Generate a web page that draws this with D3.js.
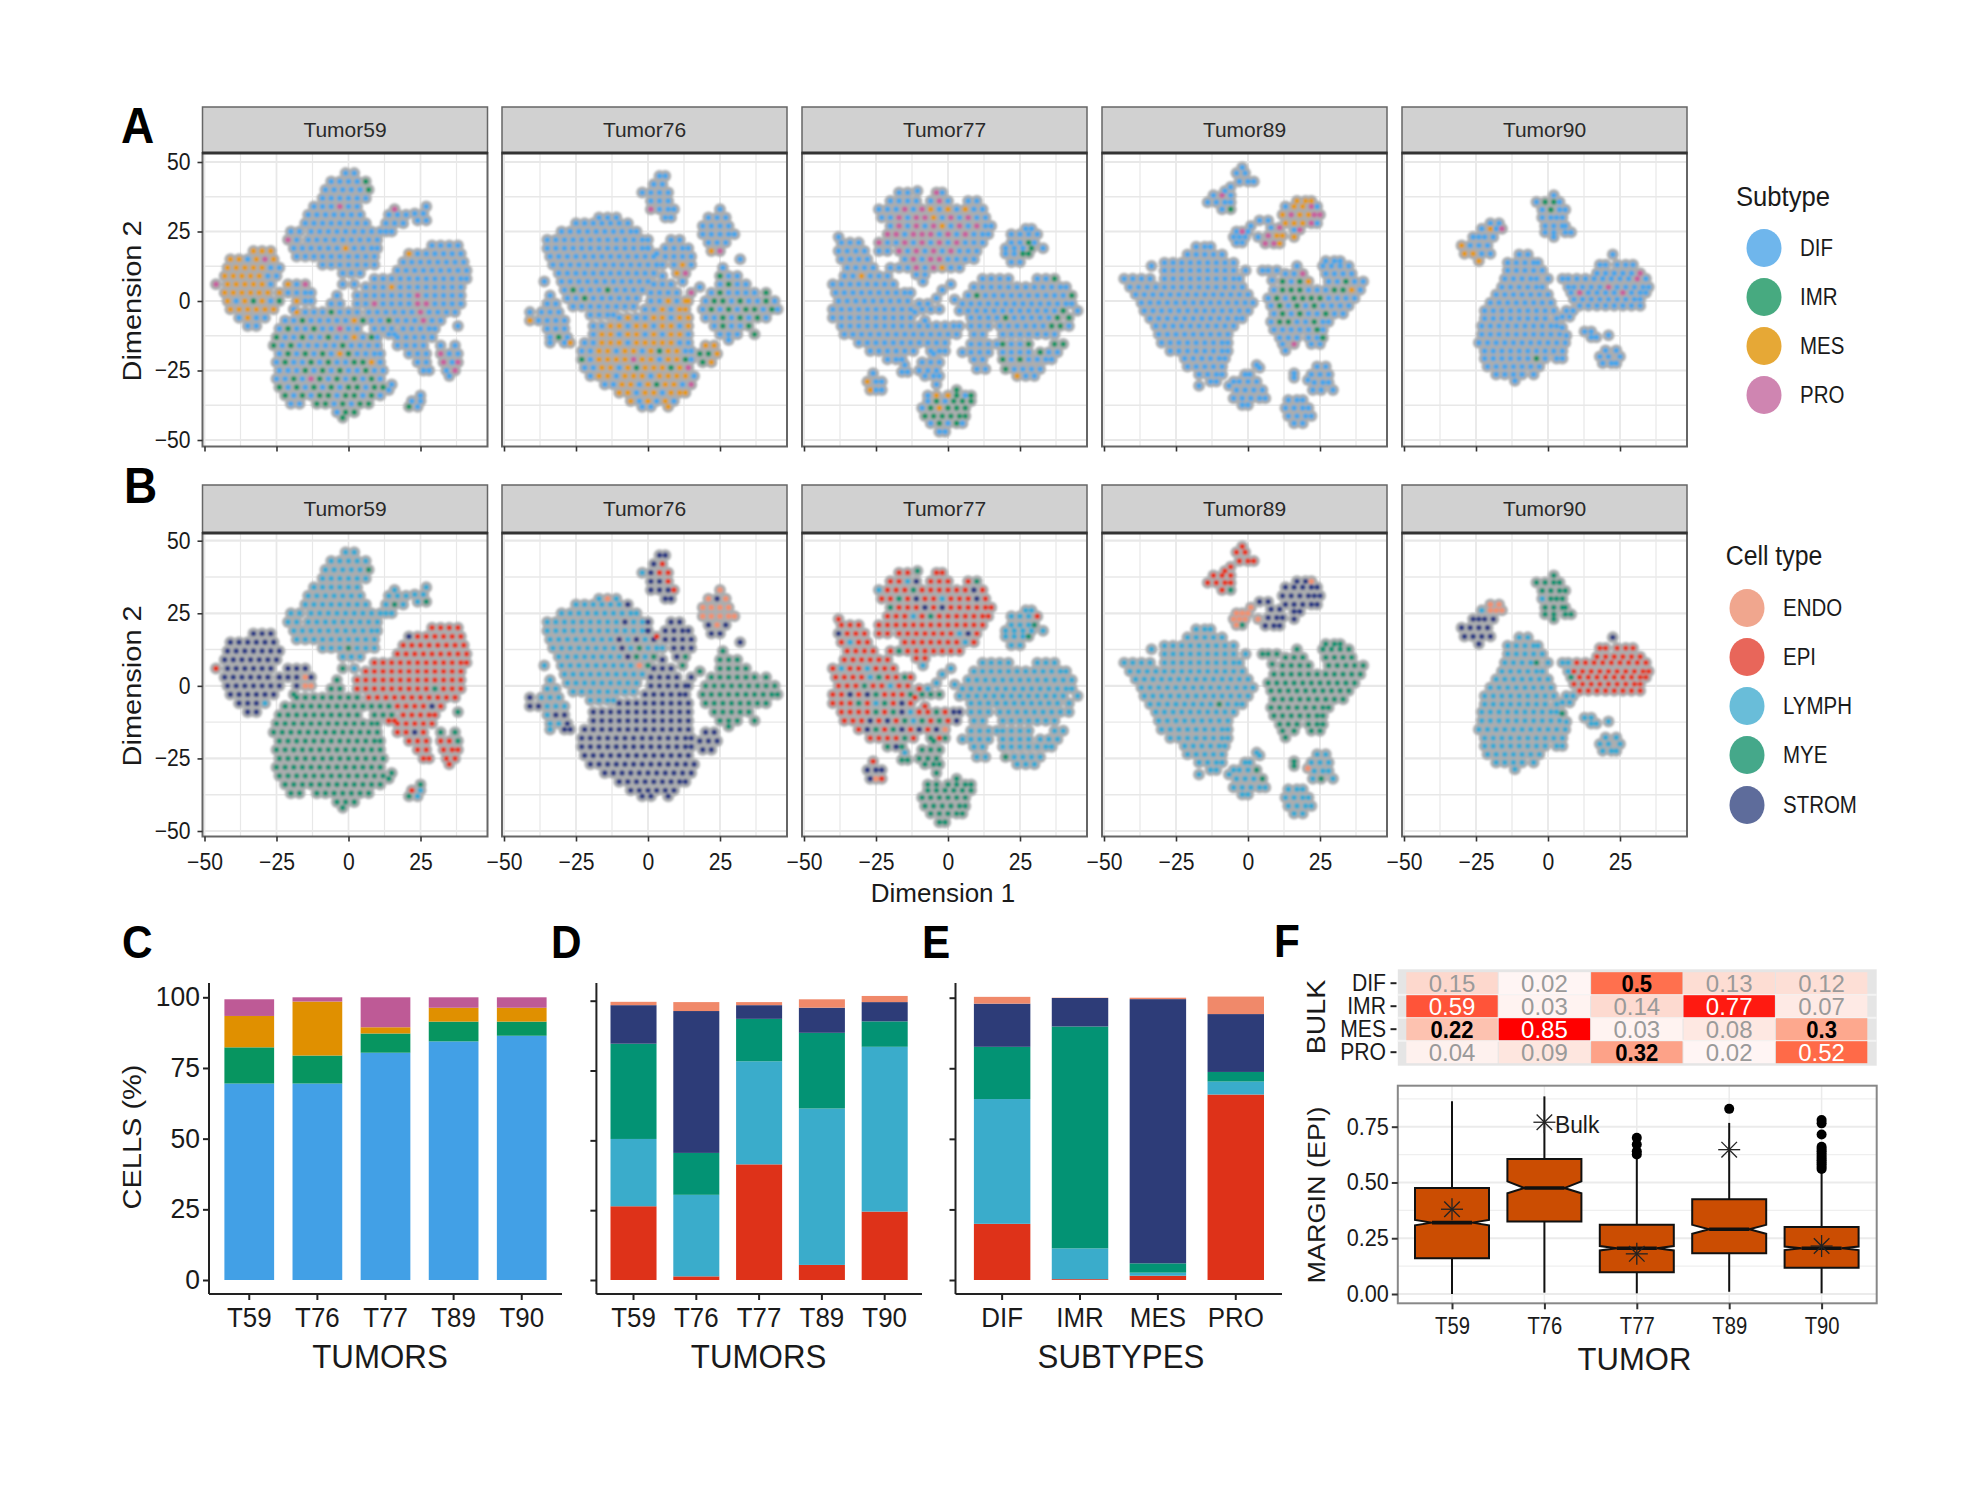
<!DOCTYPE html>
<html>
<head>
<meta charset="utf-8">
<script src="https://cdn.jsdelivr.net/npm/d3@7"></script>
<style>
html,body{margin:0;padding:0;background:#fff}
svg{display:block}
text{font-family:"Liberation Sans",Arial,sans-serif}
</style>
</head>
<body>
<svg id="chart" width="1970" height="1500"></svg>
<script>
// ---------- categories ----------
const tumorNames = ["Tumor59","Tumor76","Tumor77","Tumor89","Tumor90"];
const tumorLabels = ["T59","T76","T77","T89","T90"];
const subtypeNames = ["DIF","IMR","MES","PRO"];
const cellTypeNames = ["ENDO","EPI","LYMPH","MYE","STROM"];
const stackCellOrder = ["EPI","LYMPH","MYE","STROM","ENDO"];
const scatterTicks = [-50,-25,0,25];
const scatterMinor = [-37.5,-12.5,12.5,37.5];

// ---------- t-SNE cells ----------
// Each group: default subtype (a), default cell type (b), rows [dimension 2, "dimension 1 values"].
// Suffix on a value: d i m p = subtype, E P L Y S = cell type.
const tumor59Cells = [
 {a:"d",b:"L",rows:[[46,"-1 2"],[43,"-6 -3 0 3 6i"],[40,"-8 -5 -2 1 4 7iY"],[37,"-9 -6 -3 0 3 6"],[34,"-12 -9 -6 -3p 0 3"],[31,"-14 -11 -8 -5 -2 1 4"],[28,"-15 -12 -9 -6 -3 0 3 6"],[25,"-20 -17 -13 -10 -7 -4 -1 2 5 8 11"],[22,"-21p -18 -14 -11 -8 -5 -2 1 4 7 10"],[19,"-19 -16 -13 -10 -7 -4 -1m 2 5 8 10"],[16,"-18 -15 -12 -9 -6 -3 0 3 6 9"],[13,"-9 -6 -3 0Y 3 6 9"],[10,"-2 1 4"],[6,"-2Y 2"]]},
 {a:"d",b:"L",rows:[[33,"16p"],[31,"14 17 20"],[28,"13 16Y 19"],[25,"13 15"],[34,"27"],[31.5,"23 26"],[29,"24 27Y"]]},
 {a:"m",b:"S",rows:[[18,"-33 -30m -27"],[15,"-41 -38 -35d -32 -29p -26"],[12,"-42 -39 -36 -33 -30 -27d -24d"],[9,"-43 -40 -37 -34 -31 -28d -25d"],[6,"-46pP -42 -39 -36 -33 -30 -27d"],[3,"-43 -40 -37 -34 -31 -28 -24d"],[0,"-42 -39d -36 -33i -30 -27d -24i"],[-3,"-41 -38 -35 -32 -29 -26"],[-6,"-38d -35 -32d -29dL"],[-9,"-35d -32d"]]},
 {a:"d",b:"S",rows:[[6,"-21m -18 -15p"],[3,"-24m -21 -18 -15E -13"],[0,"-18m -15E -13E"],[-3,"-19Y"]]},
 {a:"d",b:"Y",rows:[[2,"-4"],[-1,"-6 -3"],[-4,"-18m -15 -12 -9 -6i -3 0 3"],[-7,"-22 -19 -16i -13 -10 -7 -4 -1 2m 5i"],[-10,"-24 -21i -18 -15 -12i -9 -6 -3p 0 3"],[-13,"-25i -22 -19 -16i -13 -10 -7i -4 -1 2m 5 8i 10"],[-16,"-26i -23 -20i -17 -14 -11 -8 -5 -2i 1 4 7 10"],[-19,"-24 -21i -18 -15i -12 -9i -6 -3m 0i 3 6 9 11"],[-22,"-25 -22i -19 -16 -13i -10 -7i -4 -1 2i 5i 8m 11"],[-25,"-24 -21 -18 -15i -12 -9i -6 -3i 0 3 6i 9 12"],[-28,"-25 -22 -19i -16 -13p -10i -7 -4i -1 2i 5 8i 11"],[-31,"-24i -21 -18i -15 -12i -9 -6i -3 0i 3i 6 9i 12i"],[-34,"-22i -19 -16i -13 -10i -7i -4 -1i 2i 5 8i 11"],[-37,"-20 -17 -11i -8i -5 -2i 1 4i 7i"],[-40,"-4 -1i 2i"],[-42,"-2i"],[-30,"15"],[-32,"14"]]},
 {a:"d",b:"P",rows:[[20,"29 32 35 38"],[17,"21mS 24 27 30 33 36 39"],[14,"19 22 25 28 31 34 37 40"],[11,"17 20 23 26 29 32 35 38 41"],[8,"9 12 15 18 21 24 27 30 33 36 39 41"],[5,"6 9 12 15m 18 21 24 27 30 33 36 39"],[2,"3 6 9 12 15 18 21 24p 27 30 33 36 39"],[-1,"3 6 9p 12 15 18 21 24p 27p 30Y 33 36 39"],[-4,"7 10 13 16 19 22 25p 28 31 34 37"],[-7,"17 20 23 26p 29S 32 "],[-9,"38Y"],[-10,"19 22 25 28 30"],[-13,"17 20 23 26 29"],[-16,"17 20 23S 26"],[-19,"21 24 27"],[-22,"24 27"],[-25,"26 28"]]},
 {a:"d",b:"Y",rows:[[-7,"8 11 14i"],[-10,"9 12 15"],[-12,"14P 16P"]]},
 {a:"p",b:"P",rows:[[-16,"32dY 37dY"],[-19,"32 35d 38dY"],[-22,"33 36d 38"],[-25,"34d 37"],[-27,"35d"]]},
 {a:"d",b:"Y",rows:[[-34,"25"],[-36,"22P 25L"],[-38,"21i 24L"]]}
];
const tumor76Cells = [
 {a:"d",b:"S",rows:[[45,"4 6"],[42,"2 5P"],[39,"-2L 1 4P 7P"],[36,"1 4 7P"],[33,"1p 4 7 9P"],[30,"6 8"]]},
 {a:"d",b:"E",rows:[[33,"25"],[30,"21 24S 27"],[27,"19 22 25 28"],[24,"19 22 25 28 30"],[21,"21S 24 27S"],[18,"22mS 25pS"],[15,"32S"]]},
 {a:"d",b:"L",rows:[[30,"-17 -14E -11"],[28,"-25 -22 -19 -16 -13 -10 -7S"],[25,"-30 -27 -24 -21 -18 -15 -12 -9 -6 -4"],[22,"-35 -32 -29 -26 -23 -20 -17 -14 -11 -8S -5 -2"],[19,"-35 -32 -29 -26 -23 -20 -17 -14 -11 -8 -5 -2 0S"],[16,"-34 -31 -28 -25 -22 -19 -16 -13 -10S -7 -4S -1 2S"],[13,"-33 -30 -27 -24 -21 -18 -15 -12 -9S -6 -3Y 0 3 5"],[10,"-31 -28 -25 -22 -19 -16 -13 -10 -7S -4Y -1 2Y"],[7,"-36 -30 -27 -24 -21 -18 -15 -12 -9 -6 -3E 0Y"],[4,"-29 -26i -23 -20 -17 -14i -11 -8 -5 -2"],[1,"-28 -25 -22i -19 -16 -13 -10 -7 -4"],[-2,"-26 -23 -20 -17 -14 -11 -8 -5"],[-5,"-20 -17 -14 -12"]]},
 {a:"d",b:"S",rows:[[9,"5"],[6,"2 5 8"],[3,"1 4 7 10"],[0,"1 4 7m 10 13m"],[-3,"-1 2 5m 8 11m 13m"],[-6,"-10 -7m -4 -1 2m 5m 8 11m 14m"],[-9,"-19 -16 -13m -10m -7 -4m -1m 2 5m 8m 11 14m"],[-12,"-19 -16m -13m -10 -7m -4m -1 2m 5 8m 11m 14"],[-15,"-22 -19 -16m -13m -10m -7 -4m -1m 2m 5m 8m 11 14"],[-18,"-23 -20 -17m -14m -11 -8m -5m -2 1m 4i 7m 10m 13 15"],[-21,"-23i -20 -17m -14m -11m -8m -5p -2m 1m 4 7m 10m 13i 15"],[-24,"-22 -19 -16m -13m -10 -7m -4i -1m 2m 5m 8i 11m 14p"],[-27,"-20 -17m -14m -11 -8m -5m -2m 1 4m 7m 10m 13m 16"],[-30,"-15 -12 -9m -6m -3 0m 3i 6m 9m 12 15p"],[-33,"-10m -7m -4 -1m 2m 5 8m 11m 13m"],[-36,"-6m -3 0m 3 6m 9"],[-38,"-2 1 7m"]]},
 {a:"d",b:"L",rows:[[2,"-34"],[-1,"-35 -32"],[-4,"-41S -37 -34 -31"],[-7,"-41mS -38S -35 -32 -29"],[-10,"-35 -32S -29S"],[-13,"-34 -31i -28S"],[-15,"-34 -29S -27mS"]]},
 {a:"d",b:"S",rows:[[22,"0 8 11"],[19,"0 6 9 12 14"],[17,"3P"],[16,"6 9 12 15"],[13,"3L 9 12m 15"],[10,"10m 13pY"],[7,"12Y"],[5,"18Y"],[3,"15pS"],[0,"14mS"]]},
 {a:"d",b:"Y",rows:[[12,"26"],[9,"25i 28 31"],[6,"25 28i 31 34"],[3,"22 25i 28 31 34 37 41i"],[0,"20 23i 26i 29 32i 35 38 41i 44"],[-3,"19 22i 25 28i 31 34i 37i 40 43i 45"],[-6,"20 23 26i 29 32i 35 38i 41"],[-9,"23 26i 29 32 35i"],[-12,"25 28 31 37i"],[-14,"28"]]},
 {a:"m",b:"S",rows:[[-16,"20 23"],[-19,"18i 21i 24"],[-22,"19i 22"]]}
];
const tumor77Cells = [
 {a:"d",b:"Y",rows:[[39.6,"-10.6"]]},
 {a:"d",b:"P",rows:[[39,"-17 -14 -4p -2"],[36,"-20 -17 -14L -11S -6 -3p 0 7 10Y"],[33,"-24L -21 -18 -15p -12Y -9p -6m -3 0m 3 6m 9S 12"],[30,"-23 -20 -17pY -14 -11pS -8p -5m -2L 1p 4 7p 10S 13"],[27,"-20Y -17p -14 -11p -8S -5p -2mS 1 4p 7 10p 13 15"],[24,"-21p -18p -15 -12pL -9p -6pY -3 0p 3 6p 9 12 14"],[21,"-24p -21 -18 -15p -12 -9p -6 -3p 0 3p 6 9 12"],[18,"-24 -21 -17p -14 -11p -8 -5p -2 1p 4L 7S 10"],[15,"-15 -12p -9 -6p -3p 0 3 6L 9"],[12,"-14 -11p -8 -5p -2m 1 4"],[9.5,"-11 -8"]]},
 {a:"d",b:"L",rows:[[26,"27 29"],[24,"22 25 28 31P"],[21,"22 25 28i 30Y"],[19,"20 23 26 29i 33"],[17,"20 23 26i 28iY"],[14,"22 25"]]},
 {a:"d",b:"P",rows:[[23,"-38"],[21,"-37 -34 -31"],[18,"-38S -35 -32 -29"],[15,"-37 -34L -31 -28"],[12,"-35 -32 -29 -26 -20 -17Y"],[9,"-36 -33 -30m -27 -24 -21"],[7,"-8.7L"],[6,"-40 -37L -34 -31 -28L -25 -22 -19"],[3,"-39 -36 -33 -30 -27L -24Y -21 -18 -15Y -13"],[0,"-38 -35 -32 -29Y -26 -23 -20L -17 -14"],[-3,"-40 -37 -34S -31 -28S -25Y -22 -19 -16 -13Y"],[-6,"-40 -37 -34 -31Y -28 -25L -22Y -19 -16S -13"],[-9,"-37 -34 -31 -28 -25Y -22 -19Y -16S -13L -10 -7 -4Y -1 2S 4S"],[-12,"-36 -33 -30 -27S -24 -21S -18 -15Y -12L -9Y -6 -3Y 0 3S"],[-15,"-31 -28S -25Y -22 -19Y -16S -13 -10S -7 -4S -1E"],[-18,"-27 -24 -21 -18 -15Y -12 -6Y -3 -1Y"],[-21,"-21Y -18S -16Y"]]},
 {a:"d",b:"L",rows:[[6,"1"],[4,"-2"],[1,"-4"],[0.5,"2.3"]]},
 {a:"d",b:"Y",rows:[[-1,"-10P -7L"],[-3,"-9 -6 -3"],[-4,"-11.5P"],[-7,"-8P"]]},
 {a:"d",b:"Y",rows:[[-19,"-5"],[-22,"-9 -6 -3"],[-25,"-10 -7 -4"],[-27,"-8 -5 -3"],[-30,"-4"],[-23,"-15L"],[-25.5,"-16 -14"]]},
 {a:"d",b:"S",rows:[[-26,"-26P"],[-29,"-28mS -25 -23"],[-32,"-27m -25E -23P"]]},
 {a:"i",b:"Y",rows:[[-32,"3"],[-34,"-7d -4m 0m 3 6d 8"],[-36,"-7d -4 -1d 2 5 8"],[-38.5,"-9d -6 -3m 0 3 6"],[-41.4,"-8 -5 -2 1 4 6"],[-44,"-6d -3 0d 3 5d"],[-47,"-3d -1d"]]},
 {a:"d",b:"L",rows:[[8,"12 15 18 21 31 34 37i"],[5,"9 12 15 18 21 24 27 30 33 36 39 41"],[2,"7 10i 13 16 19 22 25 28 31 34 37 40 43i"],[-1,"5 8 11 14 17 20 23 26 29 32 35 38 41 43"],[-3.5,"4 7 10 13 16 19 22 25 28 31 34 37 40i 45"],[-6,"8 11 14 17 20i 23 26 29 32 35 38i 42i"],[-9,"8 11 14 18 21 24 27 30 33 36i 39i 42"],[-12,"9 12 19 22 25 28 31 34 37"],[-15.5,"8 11 14 17 19i 22 25 28i 37i 40i"],[-18.4,"5 8 11 14 19 22 25 28 32i 35 38"],[-21,"9 12 19i 22 25i 28 31 34 36"],[-24.5,"10 13 20iY 23 26d 29 32"],[-27,"24m 27 30"]]}
];
const tumor89Cells = [
 {a:"d",b:"P",rows:[[48,"-2"],[46,"-4 -1"],[43,"-3 0 2"],[41,"-6"],[39.6,"-8"],[38,"-12 -9p -6"],[35.5,"-14 -11 -8 -6"],[33,"-9 -6iY"]]},
 {a:"m",b:"S",rows:[[36,"17 20 22E"],[34,"13d 16 19 22p 24d"],[31,"12 15p 18 21 23p 25p"],[28,"13 16 19 22p 24d"],[25.6,"16d 18p"],[23,"16"],[29,"4d 7d"],[26.4,"8d 11p"],[23.5,"7p 10 12m"],[20.7,"6p 9p 11"]]},
 {a:"d",b:"E",rows:[[27,"1"],[25,"-4 -2p 0"],[23,"-5 -3 -1 3.5"],[21,"-4 -2Y"]]},
 {a:"d",b:"L",rows:[[19.5,"-18 -15 -13"],[16.7,"-21 -18 -15 -12 -9"],[13.8,"-29 -26 -23 -20 -17 -14 -11 -8 -5"],[12.6,"-33.5"],[11,"-29 -26 -23 -20 -17 -14 -11 -8 -5 -0.8"],[8,"-43 -40 -37 -34 -29 -26 -23 -20 -17 -14 -11 -8 -5 -3"],[5,"-41 -38 -35 -32 -29 -26 -23 -20 -17 -14 -11 -8 -5 -2"],[2.3,"-39 -36 -33 -30 -27 -24 -21 -18 -15 -12 -9 -6 -3 0"],[-0.6,"-37 -34 -31 -28 -25 -22 -19 -16 -13 -10 -7 -4 -1 1.7"],[-3.5,"-36 -33 -30 -27 -24 -21 -18 -15 -12 -9 -6 -3 0"],[-6.3,"-34 -31 -28 -25 -22 -19 -16 -13 -10Y -7 -4 -2"],[-9,"-32 -29 -26 -23 -20 -17 -14 -11 -8 -5"],[-12,"-31 -28 -25 -22 -19 -16 -13 -10 -7"],[-15,"-30 -27 -24 -21 -18 -15 -12 -9 -7"],[-18,"-27 -24 -21 -18 -15 -12 -9 -7"],[-20.7,"-22 -19 -16 -13 -10 -8"],[-23.6,"-21 -18 -15 -12 -9"],[-26.4,"-17 -14 -11 -9"],[-29,"-13 -11"],[-30.5,"-17"]]},
 {a:"d",b:"L",rows:[[-23,"3"],[-24,"4"],[-29,"-5"],[-30.5,"-6.6"]]},
 {a:"d",b:"L",rows:[[-26.4,"-1 0.6"],[-29,"-3 0 3Y"],[-32,"-4 -1 2 5Y"],[-35,"-5 -2 1 4 6"],[-37.4,"-2 0"]]},
 {a:"d",b:"Y",rows:[[11,"5 7 10"],[7.5,"8.4"],[14.4,"27 30 32"],[12.6,"17 26 29 32 35"],[9.8,"13 16 19p 27 30 33 36"],[7,"12i 15 18i 21m 28 31 34i 37 40"],[4,"9 12i 15i 18i 21 24 27 30i 33i 36m 39"],[1,"7 10i 13 16i 19i 22i 25i 28 31 34 37"],[-1.7,"8 11i 14 17i 20 23i 26 29 32 35"],[-4.6,"9 12i 15 18i 21 24 27i 30 33"],[-7.5,"8 11i 14i 17 20 23i 26 28"],[-10.3,"9 12 15 18 21 24i 26"],[-13.2,"11 14 17 21 24 26i"],[-15.5,"12 16p 22 25"],[-17.8,"13"]]},
 {a:"d",b:"Y",rows:[[-26,"16"],[-27.6,"16"]]},
 {a:"d",b:"L",rows:[[-28.4,"20.8E"],[-23.6,"24 27"],[-26.4,"22 25 28"],[-29.3,"23 26 28"],[-32,"22.5 25.4Y 29.5"]]},
 {a:"d",b:"L",rows:[[-35.6,"14 17 19"],[-38.5,"13 16 19 21"],[-41.4,"14 17 20 22"],[-44,"16 19"]]}
];
const tumor90Cells = [
 {a:"d",b:"Y",rows:[[38,"2"],[35.6,"-4 -1i 2i 4"],[32.8,"-2 1i 4 6"],[30,"-2L 1 3 5"],[27,"-1 2 5 6"],[24.7,"-1 2 6 8"],[23,"2"]]},
 {a:"d",b:"S",rows:[[28,"-20E -17E"],[26,"-23L -20mE -18E -16pE"],[23,"-26 -24 -22 -19"],[20,"-30m -27 -24 -21"],[17,"-29m -26m -23 -20"],[14.4,"-24m"]]},
 {a:"d",b:"L",rows:[[16.7,"-10 -7"],[13.8,"-14 -11 -8 -5 -3.5"],[11,"-14 -11 -8 -5 -2"],[8,"-15 -12 -9 -6 -4Y 0"],[5,"-16 -13 -10 -7 -4 -2"],[2.3,"-18 -15 -12 -9 -6 -3 0"],[-0.6,"-20 -17 -14 -11 -8 -5 -2 1"],[-3.5,"-22 -19 -16 -13 -10 -7 -4 -1 2"],[-6.3,"-22 -19 -16 -13 -10 -7 -4 -1 3"],[-9,"-23 -20 -17 -14 -11 -8 -5 -2 1 3"],[-12,"-23 -20 -17 -14 -11 -8 -5 -2 1 4"],[-15,"-24 -21 -18 -15 -12 -9 -6 -3 0 3 6"],[-18,"-22 -19 -16 -13 -10 -7 -4 -1 2 5"],[-20.7,"-22 -19 -16 -13 -10 -7 -4i -1 3 5"],[-23.6,"-21 -18 -15 -12 -9 -6 -3"],[-26.4,"-18 -15 -12 -9 -5"],[-28.7,"-11.5"]]},
 {a:"d",b:"P",rows:[[16.7,"22.5S"],[13,"18 20 24 27 29.5"],[10,"17 20 23 26 29 32p"],[8,"5L 7L 10 13 16 19 22 25 28 31p 34"],[5,"7L 9 12 15 18 21p 24 27 30 33 35"],[3,"8Y 11p 14 17 20 23 26p 29 32 34"],[0.6,"9 12 15 18 21 24 27 30 32"],[-1.7,"11 14 17 20 23 26 29 32"]]},
 {a:"d",b:"L",rows:[[-3.5,"6.4 8.7"],[-5.7,"5 7.5"],[-9.5,"4.9Y"],[-12.4,"6.4"],[-11,"12.7 15"],[-13,"15 16.8"],[-12.3,"21"],[-17.8,"20 23.7"],[-20,"18 21 25"],[-22.4,"19 22 23.7"]]}
];
const tumorCellGroups = [tumor59Cells,tumor76Cells,tumor77Cells,tumor89Cells,tumor90Cells];

// ---------- stacked bars: values in percent ----------
const subtypeByTumorDIF = [69.5,69.5,80.4,84.4,86.4];
const subtypeByTumorIMR = [12.8,9.9,6.8,7,5];
const subtypeByTumorMES = [11.1,19.1,2.2,4.9,4.9];
const subtypeByTumorPRO = [5.9,1.5,10.6,3.7,3.7];
const cellByTumorEPI = [26.4,1.3,41.4,5.4,24.5];
const cellByTumorLYMPH = [24.1,29.2,36.9,56,59];
const cellByTumorMYE = [34.1,15,15.2,27.1,9.1];
const cellByTumorSTROM = [13.8,50.8,4.9,9,6.9];
const cellByTumorENDO = [1.2,3.2,1.1,3,2.2];
const cellBySubtypeEPI = [19.9,0.3,1.5,65.7];
const cellBySubtypeLYMPH = [44.2,10.9,1.1,4.6];
const cellBySubtypeMYE = [18.5,78.6,3.3,3.4];
const cellBySubtypeSTROM = [15.3,10.1,93.6,20.5];
const cellBySubtypeENDO = [2.4,0.1,0.5,6.2];
const percentTicks = [0,25,50,75,100];

// ---------- panel F ----------
const bulkDIF = [0.15,0.02,0.5,0.13,0.12];
const bulkIMR = [0.59,0.03,0.14,0.77,0.07];
const bulkMES = [0.22,0.85,0.03,0.08,0.3];
const bulkPRO = [0.04,0.09,0.32,0.02,0.52];
const marginTicks = [0,0.25,0.5,0.75];
const marginLow = [0,0.006,0.003,0.01,0.003];
const marginQ1 = [0.16,0.325,0.097,0.183,0.118];
const marginMedian = [0.32,0.475,0.205,0.29,0.205];
const marginQ3 = [0.475,0.605,0.31,0.425,0.30];
const marginHigh = [0.864,0.886,0.614,0.767,0.55];
const marginNotchLow = [0.308,0.452,0.195,0.27,0.197];
const marginNotchHigh = [0.332,0.505,0.215,0.31,0.213];
const marginBulk = [0.38,0.77,0.18,0.647,0.215];
const marginOutliers = [[],[],[0.70,0.67,0.64,0.625],[0.83],[0.78,0.765,0.715,0.66,0.65,0.64,0.63,0.62,0.61,0.60,0.59,0.58,0.57,0.56]];

// ---------- styles ----------
const subtypeDot = {d:"#46a6ec",i:"#0b9463",m:"#e59a12",p:"#c95f9f"};
const cellDot = {E:"#f2906f",P:"#e8341c",L:"#35aad4",Y:"#0c9272",S:"#2a3a84"};
const subtypeLegend = ["#6fb6ec","#47aa80","#e6a836","#cf85b1"];
const cellLegend = ["#f0a68e","#e8665a","#69bdd9","#45a88a","#5e6c9b"];
const subtypeBar = {DIF:"#42a0e6",IMR:"#079560",MES:"#e09000",PRO:"#be5a96"};
const cellBar = {EPI:"#de3219",LYMPH:"#3aaccb",MYE:"#039374",STROM:"#2d3c78",ENDO:"#f0896a"};

const svg = d3.select("#chart");
const defs = svg.append("defs");
defs.append("filter").attr("id","soft").attr("x","-5%").attr("y","-5%").attr("width","110%").attr("height","110%")
  .append("feGaussianBlur").attr("stdDeviation",0.8);

function label(parent,txt,x,y,o={}){
  const sx=o.sx||1, sy=o.sy||1, rot=o.rot||0;
  return parent.append("text").text(txt)
    .attr("transform",`translate(${x},${y}) rotate(${rot}) scale(${sx},${sy})`)
    .attr("text-anchor",o.anchor||"middle")
    .attr("dominant-baseline",o.base||"auto")
    .attr("font-size",o.size||20)
    .attr("font-weight",o.weight||"normal")
    .attr("fill",o.fill||"#1a1a1a");
}
function styleAxis(g,o){
  g.selectAll(".domain").attr("stroke",o.line||"#222").attr("stroke-width",o.lw||2);
  g.selectAll(".tick line").attr("stroke",o.line||"#222").attr("stroke-width",o.tw||2);
  g.selectAll(".tick text").each(function(){
    const t=d3.select(this), x=+t.attr("x")||0;
    t.attr("x",x/(o.sx||1)).attr("transform",`scale(${o.sx||1},1)`)
     .attr("font-size",o.size).attr("fill",o.fill||"#1a1a1a")
     .attr("font-family",'"Liberation Sans",Arial,sans-serif');
  });
}
function expandCells(groups){
  const out=[];
  groups.forEach(g=>g.rows.forEach(r=>r[1].trim().split(/\s+/).forEach(tok=>{
    const m=tok.match(/^(-?[\d.]+)([a-z]?)([A-Z]?)$/);
    out.push({x:+m[1],y:r[0],a:m[2]||g.a,b:m[3]||g.b});
  })));
  return out;
}

// ---------- panels A and B ----------
const panelTicks = [204.5,504,804,1104,1404];
const rowsDef = [
 {strip:107,stripEnd:153,bottom:446.5,y50:162,yM50:440,key:"a",colors:subtypeDot,xlabels:false},
 {strip:485,stripEnd:533,bottom:836.5,y50:540.7,yM50:831,key:"b",colors:cellDot,xlabels:true}
];
rowsDef.forEach(row=>{
  const y = d3.scaleLinear().domain([-50,50]).range([row.yM50,row.y50]);
  tumorNames.forEach((name,i)=>{
    const x = d3.scaleLinear().domain([-50,25]).range([panelTicks[i],panelTicks[i]+216]);
    const left=panelTicks[i]-2, right=left+285;
    const g = svg.append("g");
    g.append("rect").attr("x",left).attr("y",row.strip).attr("width",right-left).attr("height",row.stripEnd-row.strip)
      .attr("fill","#d1d1d1").attr("stroke","#666").attr("stroke-width",1.5);
    label(g,name,(left+right)/2,(row.strip+row.stripEnd)/2+7,{size:21,fill:"#2a2a2a"});
    const gGrid=g.append("g");
    const xMajor=scatterTicks, xMinor=scatterMinor;
    gGrid.selectAll(".v").data(xMajor.concat(xMinor)).join("line")
      .attr("x1",d=>x(d)).attr("x2",d=>x(d)).attr("y1",row.stripEnd).attr("y2",row.bottom)
      .attr("stroke","#e8e8e8").attr("stroke-width",d=>xMajor.includes(d)?1.8:1.2);
    gGrid.selectAll(".h").data(xMajor.concat([50]).concat(xMinor)).join("line")
      .attr("x1",left).attr("x2",right).attr("y1",d=>y(d)).attr("y2",d=>y(d))
      .attr("stroke","#e8e8e8").attr("stroke-width",d=>d%25===0?2.2:1.4);
    const cells=expandCells(tumorCellGroups[i]);
    const gDots=g.append("g").attr("filter","url(#soft)");
    gDots.append("g").selectAll("circle").data(cells).join("circle")
      .attr("cx",d=>x(d.x)).attr("cy",d=>y(d.y)).attr("r",6).attr("fill","#abadaf");
    gDots.append("g").selectAll("circle").data(cells).join("circle")
      .attr("cx",d=>x(d.x)).attr("cy",d=>y(d.y)).attr("r",2.7).attr("fill",d=>row.colors[d[row.key]]);
    g.append("rect").attr("x",left).attr("y",row.stripEnd).attr("width",right-left).attr("height",row.bottom-row.stripEnd)
      .attr("fill","none").attr("stroke","#666").attr("stroke-width",2);
    g.append("line").attr("x1",left-.5).attr("x2",right+.5).attr("y1",row.stripEnd).attr("y2",row.stripEnd)
      .attr("stroke","#333").attr("stroke-width",3);
    const ax=g.append("g").attr("transform",`translate(0,${row.bottom})`)
      .call(d3.axisBottom(x).tickValues(scatterTicks).tickSize(5).tickSizeOuter(0).tickFormat(row.xlabels?(d=>d<0?"\u2212"+(-d):d):""));
    ax.select(".domain").remove();
    styleAxis(ax,{size:23,sx:0.92,line:"#333",tw:1.6});
    ax.selectAll(".tick text").attr("y",17).attr("dy","0.71em");
    if(i===0){
      const ay=g.append("g").attr("transform",`translate(${left},0)`)
        .call(d3.axisLeft(y).tickValues([-50,-25,0,25,50]).tickSize(5).tickPadding(7).tickSizeOuter(0).tickFormat(d=>d<0?"\u2212"+(-d):d));
      ay.select(".domain").remove();
      styleAxis(ay,{size:23,sx:0.92,line:"#333",tw:1.6});
    }
  });
  label(svg,"Dimension 2",141,(row.y50+row.yM50)/2,{size:29,rot:-90,sy:0.86});
});
label(svg,"Dimension 1",943,902,{size:26});

label(svg,"Subtype",1783,206,{size:27,sx:0.95});
subtypeNames.forEach((n,i)=>{
  const cy=[248,297,346,395][i];
  svg.append("ellipse").attr("cx",1764).attr("cy",cy).attr("rx",17.5).attr("ry",19).attr("fill",subtypeLegend[i]);
  label(svg,n,1800,cy+8,{size:23,sx:0.89,anchor:"start"});
});
label(svg,"Cell type",1774,565,{size:27,sx:0.92});
cellTypeNames.forEach((n,i)=>{
  const cy=[608,657,706,755,805][i];
  svg.append("ellipse").attr("cx",1747).attr("cy",cy).attr("rx",17.5).attr("ry",19).attr("fill",cellLegend[i]);
  label(svg,n,1783,cy+8,{size:23,sx:0.89,anchor:"start"});
});

[["A",121,143,50],["B",124,503,50],["C",122,958,46],["D",551,958,46],["E",922,958,46],["F",1274,957,46]]
 .forEach(d=>label(svg,d[0],d[1],d[2],{size:d[3],weight:"bold",anchor:"start",sx:0.92,fill:"#000"}));

// ---------- stacked bars ----------
function stackedPanel(o){
  const x=d3.scaleBand().domain(o.cats).range(o.range).paddingInner(o.pad).paddingOuter(0);
  const y=d3.scaleLinear().domain([0,100]).range([o.y0,o.y100]);
  const stack=d3.stack().keys(o.keys);
  const table=o.cats.map((c,i)=>{const r={cat:c};o.keys.forEach((k,j)=>r[k]=o.values[j][i]);return r;});
  const g=svg.append("g");
  g.selectAll("g.s").data(stack(table)).join("g").attr("fill",d=>o.colors[d.key])
    .selectAll("rect").data(d=>d).join("rect")
    .attr("x",d=>x(d.data.cat)).attr("width",x.bandwidth())
    .attr("y",d=>y(d[1])).attr("height",d=>y(d[0])-y(d[1]));
  const ay=g.append("g").attr("transform",`translate(${o.left},0)`)
    .call(d3.axisLeft(y).tickValues(percentTicks).tickSize(6).tickSizeOuter(0).tickFormat(o.yLabels?(d=>d):""));
  ay.select(".domain").attr("d",`M0,${o.top}V1294`);
  styleAxis(ay,{size:27,sx:0.98});
  const ax=g.append("g").attr("transform","translate(0,1294)")
    .call(d3.axisBottom(x).tickSize(6).tickSizeOuter(0));
  ax.select(".domain").attr("d",`M${o.left},0H${o.axisEnd}`);
  styleAxis(ax,{size:27,sx:0.96});
  ax.selectAll(".tick text").attr("y",14).attr("dy","0.71em");
  label(g,o.title,o.titleX,1368,{size:34,sx:0.92});
}
stackedPanel({cats:tumorLabels,keys:subtypeNames,colors:subtypeBar,values:[subtypeByTumorDIF,subtypeByTumorIMR,subtypeByTumorMES,subtypeByTumorPRO],
  range:[224.4,546.6],pad:0.27,left:209,top:983,axisEnd:562,y0:1280,y100:997.3,yLabels:true,title:"TUMORS",titleX:380});
stackedPanel({cats:tumorLabels,keys:stackCellOrder,colors:cellBar,values:[cellByTumorEPI,cellByTumorLYMPH,cellByTumorMYE,cellByTumorSTROM,cellByTumorENDO],
  range:[610.5,907.7],pad:0.267,left:596.4,top:983,axisEnd:922,y0:1280,y100:1000.7,yLabels:false,title:"TUMORS",titleX:758.6});
stackedPanel({cats:subtypeNames,keys:stackCellOrder,colors:cellBar,values:[cellBySubtypeEPI,cellBySubtypeLYMPH,cellBySubtypeMYE,cellBySubtypeSTROM,cellBySubtypeENDO],
  range:[973.9,1264],pad:0.275,left:955.5,top:983,axisEnd:1282,y0:1280,y100:997.7,yLabels:false,title:"SUBTYPES",titleX:1121});
label(svg,"CELLS (%)",141,1137,{size:29,rot:-90,sy:0.88});

// ---------- panel F: heat map ----------
const heatColor=d3.scaleLinear().domain([0,0.15,0.3,0.52,0.85]).range(["#fffafa","#fdd8cd","#fda88e","#ff6a48","#ff0000"]);
const heatRows=[bulkDIF,bulkIMR,bulkMES,bulkPRO];
const hx=d3.scaleBand().domain(tumorLabels).range([1405.8,1867.8]).padding(0);
const hy=d3.scaleBand().domain(subtypeNames).range([971.7,1063.7]).padding(0);
const hg=svg.append("g");
hg.append("rect").attr("x",1397.8).attr("y",969.3).attr("width",478.9).attr("height",96.4).attr("fill","#e5e5e5");
hg.selectAll("line.sep").data(hy.domain().slice(1)).join("line")
  .attr("x1",1397.8).attr("x2",1876.7).attr("y1",d=>hy(d)).attr("y2",d=>hy(d)).attr("stroke","#f3f3f3").attr("stroke-width",2);
subtypeNames.forEach((s,r)=>{
  tumorLabels.forEach((t,c)=>{
    const v=heatRows[r][c];
    hg.append("rect").attr("x",hx(t)+.5).attr("y",hy(s)+.5).attr("width",hx.bandwidth()-1).attr("height",hy.bandwidth()-1).attr("fill",heatColor(v));
    const col=v>0.5?"#fff":(v>=0.2?"#000":"#9a9a9a");
    label(hg,String(v),hx(t)+hx.bandwidth()/2,hy(s)+hy.bandwidth()/2+9,{size:24,fill:col,weight:(v>=0.2&&v<=0.5)?"bold":"normal",sx:(v>=0.2&&v<=0.5)?0.92:1});
  });
  const cy=hy(s)+hy.bandwidth()/2;
  hg.append("line").attr("x1",1390.5).attr("x2",1396.5).attr("y1",cy).attr("y2",cy).attr("stroke","#222").attr("stroke-width",2);
  label(hg,s,1386,cy+8,{size:23,anchor:"end",sx:0.92});
});
label(svg,"BULK",1325,1017,{size:28.5,rot:-90,sy:0.88});

// ---------- panel F: box plot ----------
const bxc=d3.scalePoint().domain(tumorLabels).range([1452,1821.6]);
const by=d3.scaleLinear().domain([0,0.75]).range([1294,1126.7]);
const bg=svg.append("g");
const bL=1397.8,bR=1876.7,bT=1085.7,bB=1303.3;
bg.append("g").selectAll("line").data([0,0.25,0.5,0.75]).join("line")
  .attr("x1",bL).attr("x2",bR).attr("y1",d=>by(d)).attr("y2",d=>by(d)).attr("stroke","#ebebeb").attr("stroke-width",2);
bg.append("g").selectAll("line").data([0.125,0.375,0.625,0.875]).join("line")
  .attr("x1",bL).attr("x2",bR).attr("y1",d=>by(d)).attr("y2",d=>by(d)).attr("stroke","#efefef").attr("stroke-width",1.2);
bg.append("g").selectAll("line").data(tumorLabels).join("line")
  .attr("x1",bxc).attr("x2",bxc).attr("y1",bT).attr("y2",bB).attr("stroke","#ebebeb").attr("stroke-width",1.5);
const boxW=74, notchHalf=20;
tumorLabels.forEach((t,i)=>{
  const c=bxc(t);
  bg.append("line").attr("x1",c).attr("x2",c).attr("y1",by(marginLow[i])).attr("y2",by(marginHigh[i])).attr("stroke","#111").attr("stroke-width",2);
  const path=d3.path();
  const L=c-boxW/2,R=c+boxW/2;
  path.moveTo(L,by(marginQ3[i]));
  path.lineTo(R,by(marginQ3[i]));
  path.lineTo(R,by(marginNotchHigh[i]));
  path.lineTo(c+notchHalf,by(marginMedian[i]));
  path.lineTo(R,by(marginNotchLow[i]));
  path.lineTo(R,by(marginQ1[i]));
  path.lineTo(L,by(marginQ1[i]));
  path.lineTo(L,by(marginNotchLow[i]));
  path.lineTo(c-notchHalf,by(marginMedian[i]));
  path.lineTo(L,by(marginNotchHigh[i]));
  path.closePath();
  bg.append("path").attr("d",path.toString()).attr("fill","#cb4d02").attr("stroke","#111").attr("stroke-width",2);
  bg.append("line").attr("x1",c-notchHalf).attr("x2",c+notchHalf).attr("y1",by(marginMedian[i])).attr("y2",by(marginMedian[i]))
    .attr("stroke","#111").attr("stroke-width",3.6);
  bg.selectAll(null).data(marginOutliers[i]).join("circle")
    .attr("cx",c).attr("cy",d=>by(d)).attr("r",5).attr("fill","#000");
  [0,45,90,135].forEach(a=>{
    bg.append("line").attr("x1",-11).attr("x2",11).attr("y1",0).attr("y2",0)
      .attr("transform",`translate(${c},${by(marginBulk[i])}) rotate(${a})`)
      .attr("stroke","#222").attr("stroke-width",1.3);
  });
});
label(bg,"Bulk",1555,1133,{size:24,anchor:"start",sx:0.95});
bg.append("rect").attr("x",bL).attr("y",bT).attr("width",bR-bL).attr("height",bB-bT).attr("fill","none").attr("stroke","#888").attr("stroke-width",2);
const bAy=bg.append("g").attr("transform",`translate(${bL},0)`)
  .call(d3.axisLeft(by).tickValues(marginTicks).tickSize(6).tickSizeOuter(0).tickFormat(d3.format(".2f")));
bAy.select(".domain").remove();
styleAxis(bAy,{size:23,sx:0.94,line:"#333"});
const bAx=bg.append("g").attr("transform",`translate(0,${bB})`).call(d3.axisBottom(bxc).tickSize(6).tickSizeOuter(0));
bAx.select(".domain").remove();
styleAxis(bAx,{size:23,sx:0.88,line:"#333"});
bAx.selectAll(".tick text").attr("y",14).attr("dy","0.71em");
label(svg,"MARGIN (EPI)",1325,1195,{size:27,rot:-90,sy:0.88});
label(svg,"TUMOR",1634.5,1370,{size:32,sx:0.97});
</script>
</body>
</html>
